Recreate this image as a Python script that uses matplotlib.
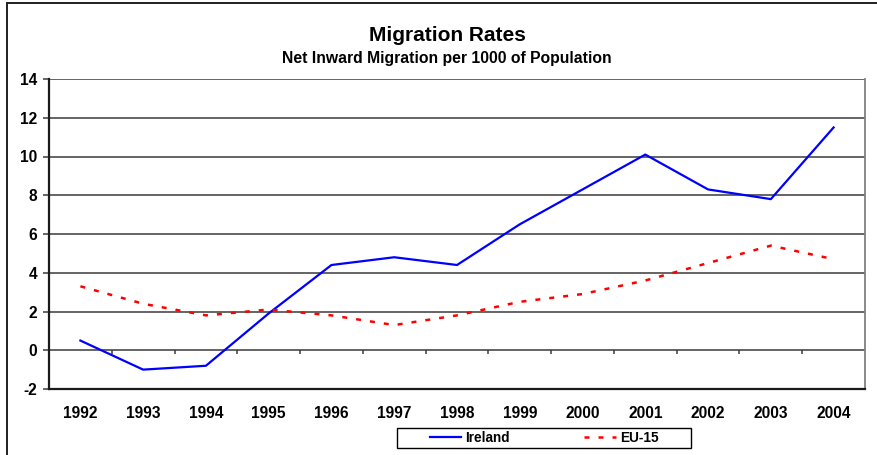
import numpy as np
import matplotlib
matplotlib.use('Agg')
import matplotlib.pyplot as plt
import matplotlib.patches as patches


# fonts
plt.rc('font', family='Liberation Sans', weight='bold')

years = ['1992', '1993', '1994', '1995', '1996', '1997', '1998',
         '1999', '2000', '2001', '2002', '2003', '2004']
ireland = [0.5, -1.0, -0.8, 1.9, 4.4, 4.8, 4.4, 6.5, 8.3, 10.1, 8.3, 7.8, 11.5]
eu15 = [3.3, 2.4, 1.8, 2.1, 1.8, 1.3, 1.8, 2.5, 2.9, 3.6, 4.5, 5.4, 4.7]
y_ticks = [-2, 0, 2, 4, 6, 8, 10, 12, 14]

W, H = 877, 455
fig = plt.figure(figsize=(W / 100, H / 100), dpi=100)

# plot area in pixel terms
left, right, top, bottom = 49, 865, 79, 389
ax = fig.add_axes([left / W, 1 - bottom / H, (right - left) / W, (bottom - top) / H])

x = np.arange(len(years))

# horizontal gridlines
for yv in y_ticks[1:]:
    ax.axhline(yv, color='#3a3a3a', linewidth=1.1, zorder=1)

# category separators sitting on the zero line
ax.vlines(x[:-1] + 0.5, -0.21, 0, color='#3a3a3a', linewidth=1.1, zorder=1)

ax.plot(x, ireland, color='#0000FF', linewidth=1.6, label='Ireland', zorder=3)
ax.plot(x, eu15, color='#FF0000', linewidth=1.8, linestyle=(0, (2.0, 3.6)),
        label='EU-15', zorder=3)

ax.set_xlim(-0.5, len(years) - 0.5)
ax.set_ylim(-2, 14)
ax.set_yticks(y_ticks)
ax.set_yticklabels([str(v) for v in y_ticks])
ax.set_xticks(x)
ax.set_xticklabels(years)

ax.tick_params(axis='y', direction='out', length=4.3, width=1.1, pad=4.3,
               labelsize=11.2, color='#3a3a3a')
ax.tick_params(axis='x', length=0, pad=12.0, labelsize=11.2)

for side in ['left', 'bottom']:
    ax.spines[side].set_color('#1a1a1a')
    ax.spines[side].set_linewidth(1.6)
ax.spines['right'].set_color('#808080')
ax.spines['right'].set_linewidth(1.3)
ax.spines['top'].set_visible(False)

# titles
fig.text(447 / W, 1 - 41 / H, 'Migration Rates', ha='center', va='baseline',
         fontsize=15, fontweight='bold')
fig.text(447 / W, 1 - 63 / H, 'Net Inward Migration per 1000 of Population',
         ha='center', va='baseline', fontsize=11.3, fontweight='bold')

# legend with its own frame
leg = fig.legend(loc='center', bbox_to_anchor=(544 / W, 1 - 438 / H), ncol=2,
                 frameon=False, fontsize=9.8, handlelength=2.3,
                 handletextpad=0.3, columnspacing=5.5, borderpad=0)
box = patches.Rectangle((397 / W, 1 - 448 / H), (691 - 397) / W, 20 / H,
                        transform=fig.transFigure, fill=False,
                        edgecolor='black', linewidth=1.0)
fig.patches.append(box)

# outer border (top and left edges visible)
border = patches.Rectangle((7 / W, -0.1), 1.2, 1.1 - 3 / H,
                           transform=fig.transFigure, fill=False,
                           edgecolor='#202020', linewidth=1.4)
fig.patches.append(border)

fig.savefig('out.png', dpi=100)
